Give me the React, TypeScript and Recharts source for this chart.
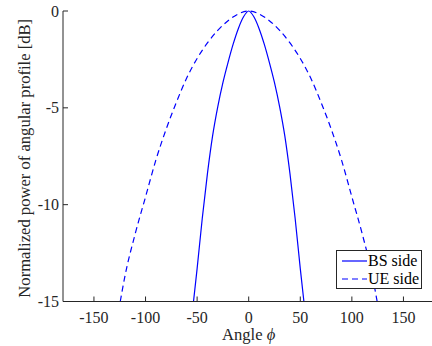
import React from 'react';
import { LineChart, Line, XAxis, YAxis, Legend } from 'recharts';

// angles in degrees, power in dB
const bsAngles = [-53.5, -50, -45, -40, -35, -30, -25, -20, -15, -10, -5, 0, 5, 10, 15, 20, 25, 30, 35, 40, 45, 50, 53.5];
const bsPower = [-15, -13.3, -10.7, -8.4, -6.45, -4.95, -3.7, -2.65, -1.7, -0.9, -0.3, 0, -0.3, -0.9, -1.7, -2.65, -3.7, -4.95, -6.45, -8.4, -10.7, -13.3, -15];

const ueAngles = [-124.5, -120, -110, -100, -90, -80, -70, -60, -50, -40, -30, -20, -10, 0, 10, 20, 30, 40, 50, 60, 70, 80, 90, 100, 110, 120, 124.5];
const uePower = [-15, -13.7, -11.5, -9.6, -7.7, -6.1, -4.7, -3.45, -2.45, -1.65, -1.0, -0.5, -0.15, 0, -0.15, -0.5, -1.0, -1.65, -2.45, -3.45, -4.7, -6.1, -7.7, -9.6, -11.5, -13.7, -15];

const xTicks = [-150, -100, -50, 0, 50, 100, 150];
const yTicks = [-15, -10, -5, 0];

const bsData = bsAngles.map((a, i) => ({ angle: a, power: bsPower[i] }));
const ueData = ueAngles.map((a, i) => ({ angle: a, power: uePower[i] }));

const FONT = '"Liberation Serif", "Times New Roman", serif';
const AXIS = '#262626';
const BLUE = '#0000ff';
const FS = 16;
const LABEL_FS = 16.6;

// MATLAB-style ticks pointing into the plot box
const BottomTick = ({ x, y, payload }: any) => (
  <g>
    <line x1={x} x2={x} y1={y} y2={y - 5} stroke={AXIS} />
    <text x={x} y={y + 21} textAnchor="middle" fill={AXIS} fontSize={FS} fontFamily={FONT}>
      {payload.value}
    </text>
  </g>
);
const TopTick = ({ x, y }: any) => <line x1={x} x2={x} y1={y} y2={y + 5} stroke={AXIS} />;
const LeftTick = ({ x, y, payload }: any) => (
  <g>
    <line x1={x} x2={x + 5} y1={y} y2={y} stroke={AXIS} />
    <text x={x - 4} y={y + 5.5} textAnchor="end" fill={AXIS} fontSize={FS} fontFamily={FONT}>
      {payload.value}
    </text>
  </g>
);
const RightTick = ({ x, y }: any) => <line x1={x} x2={x - 5} y1={y} y2={y} stroke={AXIS} />;

const LegendBox = () => (
  <div
    style={{
      width: 84,
      height: 37,
      border: `1px solid ${AXIS}`,
      background: 'white',
      fontFamily: FONT,
      fontSize: FS,
      color: '#000',
      position: 'relative',
    }}
  >
    {[
      { name: 'BS side', dash: undefined, top: 1 },
      { name: 'UE side', dash: '6 4', top: 19 },
    ].map((row) => (
      <div key={row.name} style={{ position: 'absolute', left: 0, top: row.top, height: 18, display: 'flex', alignItems: 'center' }}>
        <svg width={31} height={18}>
          <line x1={5} x2={30} y1={9} y2={9} stroke={BLUE} strokeWidth={1.2} strokeDasharray={row.dash} />
        </svg>
        <span style={{ lineHeight: '18px', whiteSpace: 'nowrap' }}>{row.name}</span>
      </div>
    ))}
  </div>
);

export default function App() {
  return (
    <div style={{ position: 'absolute', left: 0, top: 0, width: 432, height: 346, overflow: 'hidden', background: 'white' }}>
      <LineChart width={440} height={346} margin={{ top: 11, right: 5.6, left: 0, bottom: 14.5 }}>
        <XAxis
          xAxisId="bottom"
          type="number"
          dataKey="angle"
          domain={[-180, 180]}
          ticks={xTicks}
          allowDuplicatedCategory={false}
          height={30}
          stroke={AXIS}
          tickSize={0}
          tickMargin={0}
          tickLine={false}
          tick={<BottomTick />}
          label={{
            content: (props: any) => {
              const vb = props.viewBox || {};
              return (
                <text x={vb.x + vb.width / 2} y={340} textAnchor="middle" fill={AXIS} fontSize={LABEL_FS} fontFamily={FONT}>
                  Angle <tspan fontStyle="italic">ϕ</tspan>
                </text>
              );
            },
          }}
        />
        <XAxis
          xAxisId="top"
          orientation="top"
          type="number"
          dataKey="angle"
          domain={[-180, 180]}
          ticks={xTicks}
          height={0}
          stroke={AXIS}
          tickSize={0}
          tickMargin={0}
          tickLine={false}
          tick={<TopTick />}
        />
        <YAxis
          yAxisId="left"
          type="number"
          domain={[-15, 0]}
          ticks={yTicks}
          width={63}
          stroke={AXIS}
          tickSize={0}
          tickMargin={0}
          tickLine={false}
          tick={<LeftTick />}
          label={{
            content: (props: any) => {
              const vb = props.viewBox || {};
              const cy = vb.y + vb.height / 2 + 2;
              return (
                <text
                  x={30}
                  y={cy}
                  transform={`rotate(-90, 30, ${cy})`}
                  textAnchor="middle"
                  fill={AXIS}
                  fontSize={LABEL_FS}
                  fontFamily={FONT}
                >
                  Normalized power of angular profile [dB]
                </text>
              );
            },
          }}
        />
        <YAxis
          yAxisId="right"
          orientation="right"
          type="number"
          domain={[-15, 0]}
          ticks={yTicks}
          width={0}
          stroke={AXIS}
          tickSize={0}
          tickMargin={0}
          tickLine={false}
          tick={<RightTick />}
        />
        <Legend
          layout="horizontal"
          verticalAlign="middle"
          align="center"
          wrapperStyle={{ left: 336, top: 250, width: 86, height: 39 }}
          content={() => <LegendBox />}
        />
        <Line
          xAxisId="bottom"
          yAxisId="left"
          data={bsData}
          dataKey="power"
          name="BS side"
          type="monotone"
          stroke={BLUE}
          strokeWidth={1.2}
          dot={false}
          isAnimationActive={false}
        />
        <Line
          xAxisId="bottom"
          yAxisId="left"
          data={ueData}
          dataKey="power"
          name="UE side"
          type="monotone"
          stroke={BLUE}
          strokeWidth={1.2}
          strokeDasharray="6 4"
          dot={false}
          isAnimationActive={false}
        />
      </LineChart>
    </div>
  );
}
